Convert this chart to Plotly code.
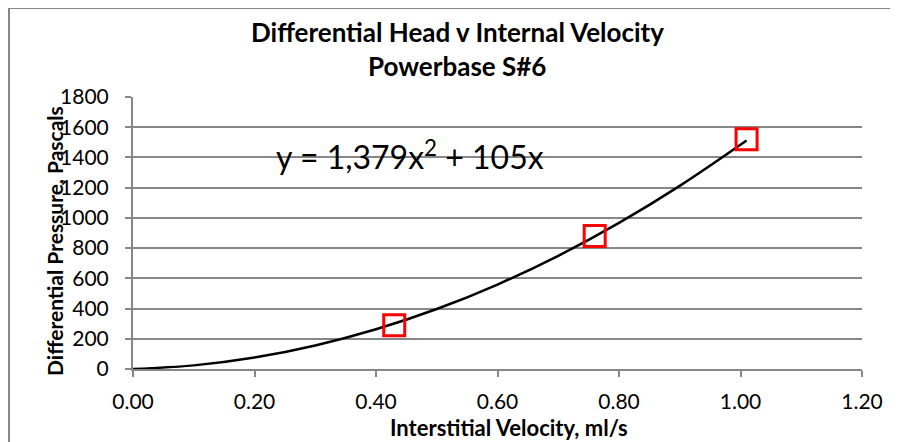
import plotly.graph_objects as go

# Measured data points
velocity = [0.43, 0.76, 1.01]
pressure = [290, 880, 1520]

# Trendline points
trend_x = [0.0, 0.1, 0.2, 0.3, 0.4, 0.5, 0.6, 0.7, 0.8, 0.9, 1.01]
trend_y = [0, 24, 76, 156, 263, 397, 559, 749, 967, 1212, 1512]

x_ticks = [0.0, 0.2, 0.4, 0.6, 0.8, 1.0, 1.2]
x_tick_labels = ["0.00", "0.20", "0.40", "0.60", "0.80", "1.00", "1.20"]
y_ticks = [0, 200, 400, 600, 800, 1000, 1200, 1400, 1600, 1800]

title_lines = ["Differential Head v Internal Velocity", "Powerbase S#6"]
equation = "y = 1,379x<sup>2</sup> + 105x"
x_title = "Interstitial Velocity, ml/s"
y_title = "Differential Pressure, Pascals"

FONT = "Lato"
GRID = "#878787"
OFF = 8  # page body margin

fig = go.Figure()
fig.add_trace(go.Scatter(x=trend_x, y=trend_y, mode="lines", line=dict(color="black", width=2.5, shape="spline"),
                         hoverinfo="skip", showlegend=False))
fig.add_trace(go.Scatter(x=velocity, y=pressure, mode="markers",
                         marker=dict(symbol="square-open", size=21, color="#ff0000", line=dict(width=3, color="#ff0000")),
                         showlegend=False))

W, H = 898 - OFF, 442 - OFF
# screen-pixel plot box
SX0, SX1, SY0, SY1 = 133, 862, 97, 369
L, R, T, B = SX0 - OFF, (W + OFF) - SX1, SY0 - OFF, (H + OFF) - SY1
pw, ph = W - L - R, H - T - B

def px(xs):
    return (xs - SX0) / pw

def py(ys):
    return (SY1 - ys) / ph

fig.update_layout(
    width=W, height=H,
    margin=dict(l=L, r=R, t=T, b=B),
    paper_bgcolor="white", plot_bgcolor="white",
    font=dict(family=FONT, color="black"),
    xaxis=dict(range=[0, 1.2], tickvals=x_ticks, ticktext=x_tick_labels, showgrid=False,
               showline=True, linecolor=GRID, linewidth=2, ticks="outside", ticklen=6, tickwidth=2,
               tickcolor=GRID, tickfont=dict(size=21, family=FONT), zeroline=False, ticklabelstandoff=7),
    yaxis=dict(range=[0, 1800], tickvals=y_ticks, showgrid=True, gridcolor=GRID, gridwidth=2,
               showline=True, linecolor=GRID, linewidth=2, ticks="outside", ticklen=6, tickwidth=2,
               tickcolor=GRID, tickfont=dict(size=21, family=FONT), zeroline=False, ticklabelstandoff=12),
    shapes=[dict(type="rect", xref="paper", yref="paper", x0=px(9), x1=px(W + 40), y0=py(H + 40), y1=py(8),
                 line=dict(color=GRID, width=2), layer="below")],
    annotations=[
        dict(text="<b>" + title_lines[0] + "</b>", xref="paper", yref="paper", x=px(457), y=py(32),
             showarrow=False, font=dict(size=26, family=FONT), xanchor="center", yanchor="middle"),
        dict(text="<b>" + title_lines[1] + "</b>", xref="paper", yref="paper", x=px(457), y=py(66),
             showarrow=False, font=dict(size=26, family=FONT), xanchor="center", yanchor="middle"),
        dict(text=equation, xref="paper", yref="paper", x=px(274), y=py(155),
             showarrow=False, font=dict(size=32, family=FONT), xanchor="left", yanchor="middle"),
        dict(text="<b>" + x_title + "</b>", xref="paper", yref="paper", x=px(509), y=py(427),
             showarrow=False, font=dict(size=22, family=FONT), xanchor="center", yanchor="middle"),
        dict(text="<b>" + y_title + "</b>", xref="paper", yref="paper", x=px(54), y=py(241),
             showarrow=False, font=dict(size=21, family=FONT), xanchor="center", yanchor="middle", textangle=-90),
    ],
)

fig.write_html("out.html")
